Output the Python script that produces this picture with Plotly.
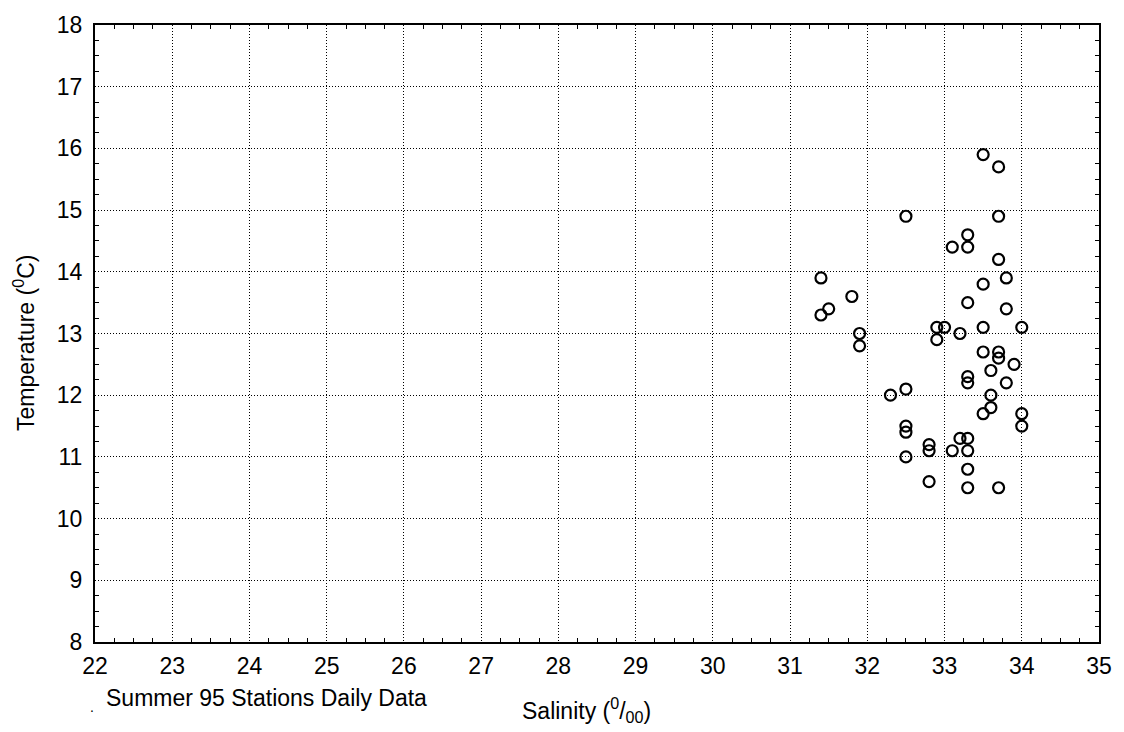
import plotly.graph_objects as go

# Summer 95 station daily observations: salinity (ppt) and temperature (deg C)
salinity = [
    33.5, 33.7, 32.5, 33.7, 33.3, 33.1, 33.3, 33.7, 31.4, 33.8,
    33.5, 31.8, 31.5, 31.4, 33.3, 33.8, 31.9, 31.9, 32.9, 33.0,
    32.9, 33.2, 33.5, 34.0, 33.5, 33.7, 33.7, 33.9, 33.6, 33.3,
    33.3, 33.8, 32.3, 32.5, 33.6, 33.6, 33.5, 34.0, 34.0, 32.5,
    32.5, 32.8, 32.8, 33.2, 33.3, 33.1, 33.3, 32.5, 33.3, 32.8,
    33.3, 33.7,
]
temperature = [
    15.9, 15.7, 14.9, 14.9, 14.6, 14.4, 14.4, 14.2, 13.9, 13.9,
    13.8, 13.6, 13.4, 13.3, 13.5, 13.4, 13.0, 12.8, 13.1, 13.1,
    12.9, 13.0, 13.1, 13.1, 12.7, 12.7, 12.6, 12.5, 12.4, 12.3,
    12.2, 12.2, 12.0, 12.1, 12.0, 11.8, 11.7, 11.7, 11.5, 11.5,
    11.4, 11.2, 11.1, 11.3, 11.3, 11.1, 11.1, 11.0, 10.8, 10.6,
    10.5, 10.5,
]

x_range = [22, 35]
y_range = [8, 18]

FONT = "Liberation Sans, Arial, Helvetica, sans-serif"

fig = go.Figure()
fig.add_trace(go.Scatter(
    x=salinity,
    y=temperature,
    mode="markers",
    marker=dict(symbol="circle-open", size=11, color="black",
                line=dict(width=2.2, color="black")),
    showlegend=False,
    hoverinfo="x+y",
))

axis_common = dict(
    showline=True,
    linecolor="black",
    linewidth=2,
    mirror="allticks",
    showgrid=True,
    gridcolor="black",
    gridwidth=1,
    griddash="1px,2px",
    zeroline=False,
    ticks="",
    dtick=1,
    tickfont=dict(family=FONT, size=23, color="black"),
    minor=dict(ticks="inside", dtick=0.25, ticklen=4, tickcolor="black",
               tickwidth=1, showgrid=False),
)

fig.update_xaxes(range=x_range, ticklabelstandoff=2, **axis_common)
fig.update_yaxes(range=y_range, ticklabelstandoff=6, **axis_common)

L, R, T, B = 95, 24, 19, 90
W, H = 1124, 732
pw, ph = W - L - R, H - T - B


def px_to_paper(px, py):
    return (px - L) / pw, (H - B - py) / ph


annotations = []
ax, ay = px_to_paper(587, 711)
annotations.append(dict(
    text="Salinity (<sup>0</sup>/<sub>00</sub>)", x=ax, y=ay,
    xref="paper", yref="paper", xanchor="center", yanchor="middle",
    showarrow=False, font=dict(family=FONT, size=23, color="black"),
))
ax, ay = px_to_paper(24, 340)
annotations.append(dict(
    text="Temperature (<sup>0</sup>C)", x=ax, y=ay, textangle=-90,
    xref="paper", yref="paper", xanchor="center", yanchor="middle",
    showarrow=False, font=dict(family=FONT, size=23, color="black"),
))
ax, ay = px_to_paper(104, 699)
annotations.append(dict(
    text="Summer 95 Stations Daily Data", x=ax, y=ay,
    xref="paper", yref="paper", xanchor="left", yanchor="middle",
    showarrow=False, font=dict(family=FONT, size=23, color="black"),
))
ax, ay = px_to_paper(92, 708)
annotations.append(dict(
    text=".", x=ax, y=ay,
    xref="paper", yref="paper", xanchor="center", yanchor="middle",
    showarrow=False, font=dict(family=FONT, size=14, color="black"),
))

fig.update_layout(
    width=W,
    height=H,
    margin=dict(l=L, r=R, t=T, b=B, pad=0),
    paper_bgcolor="white",
    plot_bgcolor="white",
    font=dict(family=FONT, color="black"),
    annotations=annotations,
)

fig.write_html("out.html")
